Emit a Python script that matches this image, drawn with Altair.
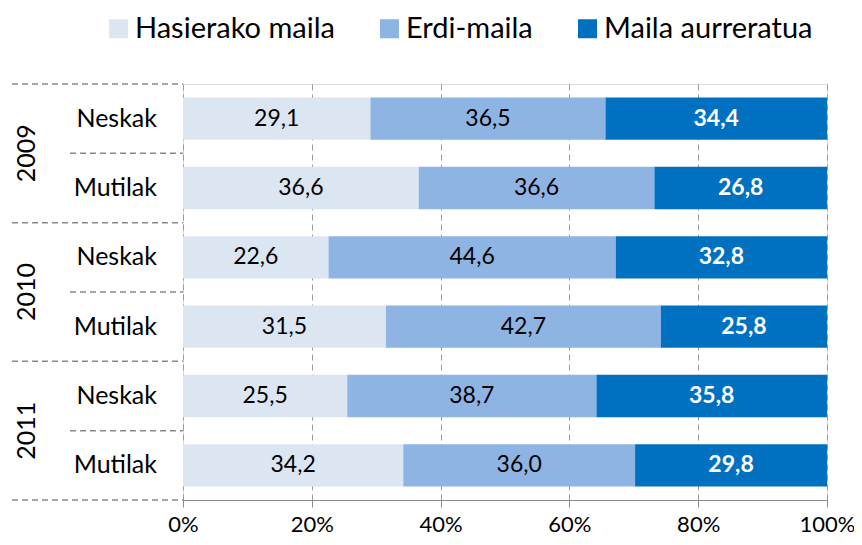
import altair as alt
import pandas as pd

years = ["2009", "2009", "2010", "2010", "2011", "2011"]
sexes = ["Neskak", "Mutilak", "Neskak", "Mutilak", "Neskak", "Mutilak"]
hasierako = [29.1, 36.6, 22.6, 31.5, 25.5, 34.2]
erdi = [36.5, 36.6, 44.6, 42.7, 38.7, 36.0]
aurreratua = [34.4, 26.8, 32.8, 25.8, 35.8, 29.8]
levels = ["Hasierako maila", "Erdi-maila", "Maila aurreratua"]
colors = ["#DCE6F2", "#8EB4E3", "#0070C0"]
xticks = [0, 20, 40, 60, 80, 100]

FONT = "Lato"

rows = []
for i in range(len(years)):
    start = 0.0
    for lvl, vals in zip(levels, [hasierako, erdi, aurreratua]):
        v = vals[i]
        rows.append({"idx": i, "year": years[i], "sex": sexes[i], "level": lvl,
                     "value": v, "start": start, "end": start + v,
                     "mid": start + v / 2, "y0": i - 0.305, "y1": i + 0.305})
        start += v
df = pd.DataFrame(rows)

rowdf = pd.DataFrame({"idx": list(range(len(years))), "sex": sexes})
yeardf = pd.DataFrame({"year": ["2009", "2010", "2011"], "pos": [0.5, 2.5, 4.5]})
groupsep = pd.DataFrame({"pos": [-0.5, 1.5, 3.5, 5.5]})
innersep = pd.DataFrame({"pos": [0.5, 2.5, 4.5]})

W, H = 644, 416
xscale = alt.Scale(domain=[0, 100], nice=False, zero=False)
yscale = alt.Scale(domain=[-0.5, 5.5], reverse=True, nice=False, zero=False)

bars = alt.Chart(df).mark_bar(strokeWidth=0).encode(
    x=alt.X("start:Q", scale=xscale,
            axis=alt.Axis(values=xticks, title=None, labelExpr="datum.value + '%'",
                          grid=True, gridDash=[6, 4], gridColor="#9a9a9a",
                          domainColor="#8a8a8a", tickColor="#8a8a8a", tickSize=7,
                          labelFontSize=22, labelFont=FONT, labelColor="#000",
                          labelPadding=7, labelFlush=False, labelOverlap=False)),
    x2="end:Q",
    y=alt.Y("y0:Q", scale=yscale, axis=None),
    y2="y1:Q",
    color=alt.Color("level:N", scale=alt.Scale(domain=levels, range=colors),
                    sort=levels,
                    legend=alt.Legend(title=None, orient="none", direction="horizontal",
                                      legendX=-79, legendY=-70, symbolType="square",
                                      symbolSize=361, symbolStrokeWidth=0,
                                      labelFontSize=29, labelFont=FONT, labelColor="#000",
                                      labelLimit=400, columnPadding=40, labelOffset=2)),
)

txt_dark = alt.Chart(df).transform_filter(
    alt.datum.level != "Maila aurreratua"
).transform_calculate(
    lab="replace(format(datum.value, '.1f'), '.', ',')"
).mark_text(fontSize=23, font=FONT, color="#000").encode(
    x=alt.X("mid:Q", scale=xscale), y=alt.Y("idx:Q", scale=yscale), text="lab:N")

txt_light = alt.Chart(df).transform_filter(
    alt.datum.level == "Maila aurreratua"
).transform_calculate(
    lab="replace(format(datum.value, '.1f'), '.', ',')"
).mark_text(fontSize=23, font=FONT, color="#fff", fontWeight="bold").encode(
    x=alt.X("mid:Q", scale=xscale), y=alt.Y("idx:Q", scale=yscale), text="lab:N")

sexlab = alt.Chart(rowdf).mark_text(fontSize=25, font=FONT, align="right", color="#000").encode(
    x=alt.value(-26), y=alt.Y("idx:Q", scale=yscale), text="sex:N")

yearlab = alt.Chart(yeardf).mark_text(fontSize=25, font=FONT, angle=270, color="#000").encode(
    x=alt.value(-156), y=alt.Y("pos:Q", scale=yscale), text="year:N")

gsep = alt.Chart(groupsep).mark_rule(strokeDash=[6, 4], color="#8a8a8a", strokeWidth=1.5).encode(
    x=alt.value(-171), x2=alt.value(0), y=alt.Y("pos:Q", scale=yscale))
isep = alt.Chart(innersep).mark_rule(strokeDash=[6, 4], color="#8a8a8a", strokeWidth=1.5).encode(
    x=alt.value(-113), x2=alt.value(0), y=alt.Y("pos:Q", scale=yscale))

chart = alt.layer(bars, gsep, isep, txt_dark, txt_light, sexlab, yearlab).properties(
    width=W, height=H,
    autosize=alt.AutoSizeParams(type="none"),
    padding={"left": 175, "top": 76, "right": 27, "bottom": 37},
).configure_view(stroke=None).configure(background="white")

chart.save("out.html", embed_options={"renderer": "svg", "actions": False})
